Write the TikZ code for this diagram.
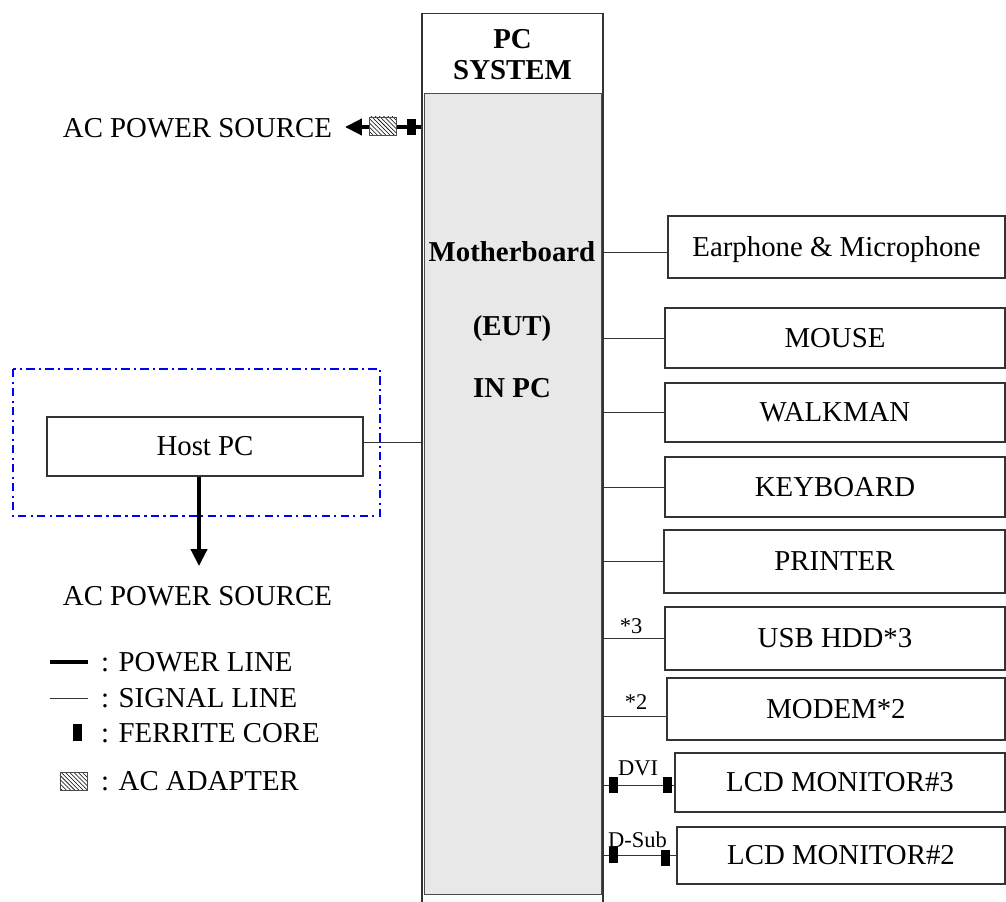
\documentclass[tikz,border=0pt]{standalone}
\usepackage{fontspec}
\setmainfont{Liberation Serif}
\usetikzlibrary{positioning,arrows.meta,patterns}

\tikzset{
  txt/.style={font=\fontsize{20.5}{23}\selectfont, inner sep=2pt, text height=13.5pt, text depth=0.5pt},
  tag/.style={font=\fontsize{16}{18}\selectfont, inner sep=1pt},
  dev/.style={draw=black!80, line width=0.8pt, minimum height=1.5cm, txt},
  sig/.style={draw=black!80, line width=0.7pt},
  power/.style={line width=2.6pt},
  ferrite/.style={fill=black, minimum width=0.22cm, minimum height=0.42cm, inner sep=0pt},
  adapter/.style={draw=black!70, preaction={fill=white}, pattern=north west lines,
    minimum width=0.675cm, minimum height=0.45cm, inner sep=0pt},
  acarrow/.style={power, -{Triangle[length=0.42cm, width=0.4cm]}},
}

\begin{document}
\begin{tikzpicture}[x=0.025cm, y=-0.025cm]
  \useasboundingbox (0,0) rectangle (1006,901);

  % PC system column
  \node[draw=black!80, line width=0.8pt, minimum width=4.525cm, minimum height=22.275cm] (pcsys) at (512.5,459.5) {};
  \node[draw=black!70, fill=black!9, minimum width=4.425cm, minimum height=20.025cm] (mb) at (512.5,493.5) {};
  \node[align=center, font=\fontsize{20.5}{22}\selectfont\bfseries] (pctitle) at (512.5,55) {PC\\SYSTEM};
  \node[txt, font=\fontsize{20.5}{23}\selectfont\bfseries] (mbname) at (512,252) {Motherboard};
  \node[txt, font=\fontsize{20.5}{23}\selectfont\bfseries] (eut) at (512,326) {(EUT)};
  \node[txt, font=\fontsize{20.5}{23}\selectfont\bfseries] (inpc) at (512,388) {IN PC};

  % power source of the system
  \node[txt] (acsrc1) at (197.5,128) {AC POWER SOURCE};
  \coordinate (actip) at (345,127);
  \draw[acarrow] (pcsys.west |- actip) -- (actip);
  \node[adapter] (ad1) at (382.5,126) {};
  \node[ferrite] (fe1) at (411.5,127) {};

  % host side
  \draw[blue, line width=1.8pt, dash pattern=on 6pt off 3pt on 1.5pt off 3pt] (13,369) rectangle (380,516);
  \node[dev, minimum width=7.9cm, minimum height=1.475cm] (host) at (205,446.5) {Host PC};
  \draw[sig] (host.east |- 0,442) -- (pcsys.west |- 0,442);
  \coordinate (hostac) at (199,566);
  \draw[acarrow] (host.south -| hostac) -- (hostac);
  \node[txt] (acsrc2) at (197.5,596) {AC POWER SOURCE};

  % devices
  \node[dev, minimum width=8.425cm, minimum height=1.55cm] (earphone) at (836.5,247) {Earphone \& Microphone};
  \node[dev, minimum width=8.5cm] (mouse) at (835,338) {MOUSE};
  \node[dev, minimum width=8.5cm, minimum height=1.475cm] (walkman) at (835,412.5) {WALKMAN};
  \node[dev, minimum width=8.5cm] (keyboard) at (835,487) {KEYBOARD};
  \node[dev, minimum width=8.525cm, minimum height=1.575cm] (printer) at (834.5,561.5) {PRINTER};
  \node[dev, minimum width=8.5cm, minimum height=1.575cm] (usbhdd) at (835,638.5) {USB HDD*3};
  \node[dev, minimum width=8.45cm, minimum height=1.55cm] (modem) at (836,709) {MODEM*2};
  \node[dev, minimum width=8.25cm, minimum height=1.475cm] (lcdthree) at (840,782.5) {LCD MONITOR\#3};
  \node[dev, minimum width=8.2cm, minimum height=1.425cm] (lcdtwo) at (841,855.5) {LCD MONITOR\#2};

  \draw[sig] (pcsys.east |- 0,252) -- (earphone.west |- 0,252);
  \foreach \d in {mouse,walkman,keyboard,printer,usbhdd}
    \draw[sig] (pcsys.east |- \d.west) -- (\d.west);
  \draw[sig] (pcsys.east |- 0,716) -- (modem.west |- 0,716);
  \draw[sig] (pcsys.east |- 0,785) -- (lcdthree.west |- 0,785);
  \draw[sig] (pcsys.east |- lcdtwo.west) -- (lcdtwo.west);

  \node[tag] (usbtag) at (631,626) {*3};
  \node[tag] (modemtag) at (636,702) {*2};
  \node[tag] (dvitag) at (638,768) {DVI};
  \node[tag] (dsubtag) at (637.5,840) {D-Sub};

  \node[ferrite] (fa3) at (613.5,785) {};
  \node[ferrite] (fb3) at (667.5,785) {};
  \node[ferrite] (fa2) at (613.5,855) {};
  \node[ferrite] (fb2) at (665.5,858) {};

  % legend
  \draw[power] (50,662) -- (88,662);
  \node[txt, anchor=west] (lgpower) at (98,662) {: POWER LINE};
  \draw[sig] (50,698) -- (88,698);
  \node[txt, anchor=west] (lgsignal) at (98,698) {: SIGNAL LINE};
  \node[ferrite] (lgfe) at (77.5,732.5) {};
  \node[txt, anchor=west] (lgferrite) at (98,733) {: FERRITE CORE};
  \node[adapter] (lgad) at (73.5,781.5) {};
  \node[txt, anchor=west] (lgadapter) at (98,781) {: AC ADAPTER};
\end{tikzpicture}
\end{document}
